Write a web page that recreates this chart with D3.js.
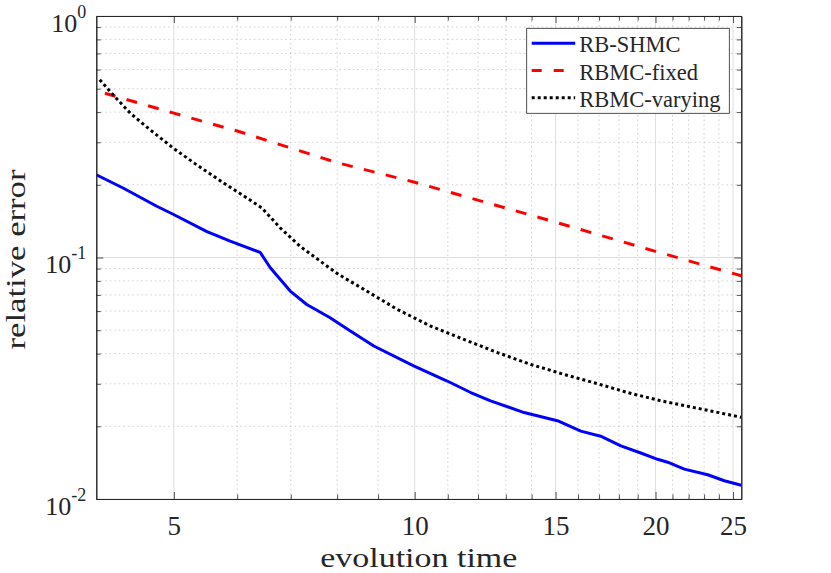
<!DOCTYPE html>
<html>
<head>
<meta charset="utf-8">
<script src="https://cdn.jsdelivr.net/npm/d3@7"></script>
<style>
    body { margin: 0; background: #fff; }
    svg { display: block; }
    text { font-family: "Liberation Serif", "Times New Roman", serif; fill: #262626; }
</style>
</head>
<body>
<svg id="chart"></svg>
<script>
// values
const rbShmcTime = [4.00, 4.32, 4.76, 4.99, 5.50, 5.88, 6.41, 6.60, 6.99, 7.33, 7.84, 8.31, 8.89, 9.97, 10.98, 11.75, 12.44, 13.70, 15.08, 16.13, 17.08, 18.10, 19.17, 20.12, 20.71, 21.73, 23.24, 24.38, 25.6];
const rbShmcErr = [0.220, 0.194, 0.163, 0.151, 0.128, 0.117, 0.105, 0.0907, 0.0726, 0.0639, 0.0563, 0.0496, 0.0430, 0.0356, 0.0308, 0.0276, 0.0255, 0.0228, 0.0211, 0.0191, 0.0182, 0.0166, 0.0155, 0.0146, 0.0142, 0.0133, 0.0126, 0.0119, 0.0114];

const rbmcFixedTime = [4.10, 5, 6, 8, 10, 15, 20, 25.6];
const rbmcFixedErr = [0.479, 0.396, 0.334, 0.247, 0.205, 0.140, 0.106, 0.084];

const rbmcVaryingTime = [4.04, 4.18, 4.41, 4.67, 4.99, 5.34, 5.77, 6.17, 6.44, 6.79, 7.19, 7.62, 8.03, 8.64, 9.51, 10.47, 11.52, 12.69, 13.96, 15.37, 16.76, 18.45, 20.31, 22.36, 25.6];
const rbmcVaryingErr = [0.544, 0.479, 0.396, 0.338, 0.284, 0.242, 0.2035, 0.1765, 0.1605, 0.1327, 0.1113, 0.0966, 0.0851, 0.0738, 0.0610, 0.0520, 0.0458, 0.0404, 0.0361, 0.0328, 0.0303, 0.0276, 0.0255, 0.0239, 0.0218];

const seriesNames = ["RB-SHMC", "RBMC-fixed", "RBMC-varying"];
const xTickValues = [5, 10, 15, 20, 25];
const xMinorValues = [6, 7, 8, 9, 11, 12, 13, 14, 16, 17, 18, 19, 21, 22, 23, 24];
const yTickExponents = [-2, -1, 0];
const yMinorValues = [0.02, 0.03, 0.04, 0.05, 0.06, 0.07, 0.08, 0.09, 0.2, 0.3, 0.4, 0.5, 0.6, 0.7, 0.8, 0.9];
const xDomain = [4, 25.6];
const yDomain = [0.01, 1];

const WIDTH = 831, HEIGHT = 573;
const margin = {top: 16, right: 89.7, bottom: 74, left: 96.3};
const AXIS_COLOR = "#262626";

const svg = d3.select("#chart").attr("width", WIDTH).attr("height", HEIGHT);

const xScale = d3.scaleLog().domain(xDomain).range([margin.left, WIDTH - margin.right]);
const yScale = d3.scaleLog().domain(yDomain).range([HEIGHT - margin.bottom, margin.top]);

const x0 = xScale.range()[0], x1 = xScale.range()[1];
const y0 = yScale.range()[0], y1 = yScale.range()[1];

function drawGrid(g) {
    // minor grid, dotted
    g.selectAll(".xminor").data(xMinorValues).enter().append("line")
        .attr("x1", d => xScale(d)).attr("x2", d => xScale(d))
        .attr("y1", y0).attr("y2", y1)
        .attr("stroke", "#c4c4c4").attr("stroke-width", 0.8).attr("stroke-dasharray", "1.5,3");
    g.selectAll(".yminor").data(yMinorValues).enter().append("line")
        .attr("y1", d => yScale(d)).attr("y2", d => yScale(d))
        .attr("x1", x0).attr("x2", x1)
        .attr("stroke", "#c4c4c4").attr("stroke-width", 0.8).attr("stroke-dasharray", "1.5,3");
    // major grid, solid
    g.selectAll(".xmajor").data(xTickValues).enter().append("line")
        .attr("x1", d => xScale(d)).attr("x2", d => xScale(d))
        .attr("y1", y0).attr("y2", y1)
        .attr("stroke", "#dedede").attr("stroke-width", 1);
    g.selectAll(".ymajor").data(yTickExponents).enter().append("line")
        .attr("y1", d => yScale(Math.pow(10, d))).attr("y2", d => yScale(Math.pow(10, d)))
        .attr("x1", x0).attr("x2", x1)
        .attr("stroke", "#dedede").attr("stroke-width", 1);
}

function drawSeries(g, xs, ys, color, dash) {
    const pts = xs.map((t, i) => [t, ys[i]]);
    const line = d3.line().x(d => xScale(d[0])).y(d => yScale(d[1]));
    g.append("path")
        .datum(pts)
        .attr("d", line)
        .attr("fill", "none")
        .attr("stroke", color)
        .attr("stroke-width", 3)
        .attr("stroke-linejoin", "round")
        .attr("stroke-dasharray", dash);
}

function drawAxes(g) {
    // box on, ticks pointing inward on all four sides
    const bottom = g.append("g").attr("transform", "translate(0," + y0 + ")")
        .call(d3.axisBottom(xScale).tickValues(xTickValues).tickSizeInner(-7).tickSizeOuter(0).tickFormat(d3.format("d")).tickPadding(18));
    const top = g.append("g").attr("transform", "translate(0," + y1 + ")")
        .call(d3.axisTop(xScale).tickValues(xTickValues).tickSizeInner(-7).tickSizeOuter(0).tickFormat(""));
    const bottomMinor = g.append("g").attr("transform", "translate(0," + y0 + ")")
        .call(d3.axisBottom(xScale).tickValues(xMinorValues).tickSizeInner(-4.5).tickSizeOuter(0).tickFormat(""));
    const topMinor = g.append("g").attr("transform", "translate(0," + y1 + ")")
        .call(d3.axisTop(xScale).tickValues(xMinorValues).tickSizeInner(-4.5).tickSizeOuter(0).tickFormat(""));

    const left = g.append("g").attr("transform", "translate(" + x0 + ",0)")
        .call(d3.axisLeft(yScale).tickValues(yTickExponents.map(e => Math.pow(10, e))).tickSizeInner(-7).tickSizeOuter(0).tickFormat(""));
    const right = g.append("g").attr("transform", "translate(" + x1 + ",0)")
        .call(d3.axisRight(yScale).tickValues(yTickExponents.map(e => Math.pow(10, e))).tickSizeInner(-7).tickSizeOuter(0).tickFormat(""));
    const leftMinor = g.append("g").attr("transform", "translate(" + x0 + ",0)")
        .call(d3.axisLeft(yScale).tickValues(yMinorValues).tickSizeInner(-4.5).tickSizeOuter(0).tickFormat(""));
    const rightMinor = g.append("g").attr("transform", "translate(" + x1 + ",0)")
        .call(d3.axisRight(yScale).tickValues(yMinorValues).tickSizeInner(-4.5).tickSizeOuter(0).tickFormat(""));

    [bottom, top, bottomMinor, topMinor, left, right, leftMinor, rightMinor].forEach(a => {
        a.select(".domain").attr("stroke", AXIS_COLOR).attr("stroke-width", 1);
        a.selectAll(".tick line").attr("stroke", AXIS_COLOR).attr("stroke-width", 0.8);
    });

    bottom.selectAll(".tick text")
        .attr("font-family", "Liberation Serif")
        .attr("font-size", 27)
        .attr("fill", AXIS_COLOR)
        .attr("dy", 0)
        .attr("y", 36);

    // y tick labels as 10^e
    g.selectAll(".ylabel").data(yTickExponents).enter().append("text")
        .attr("class", "ylabel")
        .attr("text-anchor", "end")
        .attr("x", x0 - 10)
        .attr("y", d => yScale(Math.pow(10, d)) + 15.5)
        .attr("font-size", 26)
        .each(function (d) {
            const t = d3.select(this);
            t.append("tspan").text("10");
            t.append("tspan").attr("dy", -14).attr("font-size", 18).text(d === 0 ? "0" : "-" + Math.abs(d));
        });
}

function drawLabels(g) {
    g.append("text")
        .attr("x", (x0 + x1) / 2)
        .attr("y", 567)
        .attr("text-anchor", "middle")
        .attr("font-size", 27)
        .attr("textLength", 197)
        .attr("lengthAdjust", "spacingAndGlyphs")
        .text("evolution time");

    g.append("text")
        .attr("transform", "translate(25," + ((y0 + y1) / 2 + 2) + ") rotate(-90)")
        .attr("text-anchor", "middle")
        .attr("font-size", 27)
        .attr("textLength", 180)
        .attr("lengthAdjust", "spacingAndGlyphs")
        .text("relative error");
}

function drawLegend(g) {
    const colors = ["#0000ff", "#ff0000", "#000000"];
    const dashes = [null, "10,12", "3,3"];
    const box = g.append("g").attr("transform", "translate(526.7,28.3)");
    box.append("rect")
        .attr("width", 202.6).attr("height", 85)
        .attr("fill", "#fff")
        .attr("stroke", AXIS_COLOR).attr("stroke-width", 0.8);
    seriesNames.forEach((name, i) => {
        const cy = 15 + i * 27.2;
        box.append("line")
            .attr("x1", 5).attr("x2", 48.5)
            .attr("y1", cy).attr("y2", cy)
            .attr("stroke", colors[i]).attr("stroke-width", 3)
            .attr("stroke-dasharray", dashes[i]);
        box.append("text")
            .attr("x", 52.6).attr("y", cy + 9.2)
            .attr("font-size", 22.5)
            .attr("fill", "#000")
            .text(name);
    });
}

svg.append("defs").append("clipPath").attr("id", "plot-clip")
    .append("rect").attr("x", x0).attr("y", y1).attr("width", x1 - x0).attr("height", y0 - y1);

const gridGroup = svg.append("g");
drawGrid(gridGroup);

const lineGroup = svg.append("g").attr("clip-path", "url(#plot-clip)");
drawSeries(lineGroup, rbShmcTime, rbShmcErr, "#0000ff", null);
drawSeries(lineGroup, rbmcFixedTime, rbmcFixedErr, "#ff0000", "11,11.5");
drawSeries(lineGroup, rbmcVaryingTime, rbmcVaryingErr, "#000000", "3,3");

const axisGroup = svg.append("g");
drawAxes(axisGroup);
drawLabels(axisGroup);
drawLegend(axisGroup);
</script>
</body>
</html>
